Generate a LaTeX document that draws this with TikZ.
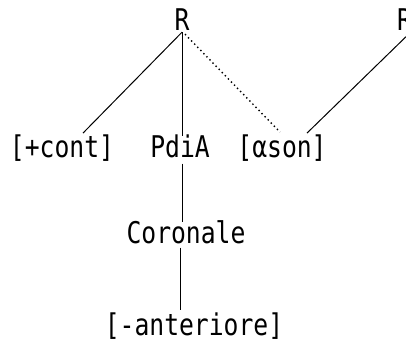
\documentclass[tikz,border=0pt]{standalone}
\usepackage{fontspec}
\usepackage{graphicx}
\setmainfont{DejaVu Sans Mono}
\newcommand{\tallt}[1]{\scalebox{0.95}[1.15]{#1}}
\begin{document}
\begin{tikzpicture}[x=1pt,y=1pt,
  lbl/.style={anchor=base,inner sep=0pt,font=\fontsize{26}{30}\selectfont},
  edge/.style={line width=1pt},
  dotedge/.style={line width=1.4pt,dash pattern=on 1.4pt off 3pt}]
\useasboundingbox (0,0) rectangle (406,341);
\node[lbl] (R) at (182,311) {\tallt{R}};
\node[lbl,anchor=base west] (R2) at (397,311) {\tallt{R}};
\node[lbl] (cont) at (62,184) {\tallt{[+cont]}};
\node[lbl] (pdia) at (180,184) {\tallt{PdiA}};
\node[lbl] (son) at (282,184) {\tallt{[αson]}};
\node[lbl] (cor) at (186,98) {\tallt{Coronale}};
\node[lbl] (ant) at (194,6) {\tallt{[-anteriore]}};
\draw[edge] ([yshift=-2pt]R.south) -- ([xshift=21pt,yshift=1pt]cont.north);
\draw[edge] ([yshift=-2pt]R.south) -- ([xshift=2pt,yshift=-2pt]pdia.north);
\draw[dotedge] ([xshift=3pt,yshift=-4pt]R.south) -- ([xshift=-2pt,yshift=2pt]son.north);
\draw[edge] ([xshift=6pt,yshift=-2pt]R2.south) -- ([xshift=25pt,yshift=1pt]son.north);
\draw[edge] ([xshift=2pt,yshift=-6pt]pdia.south) -- ([xshift=-4pt,yshift=-2pt]cor.north);
\draw[edge] ([xshift=-6pt,yshift=-4pt]cor.south) -- ([xshift=-14pt,yshift=2pt]ant.north);
\end{tikzpicture}
\end{document}
